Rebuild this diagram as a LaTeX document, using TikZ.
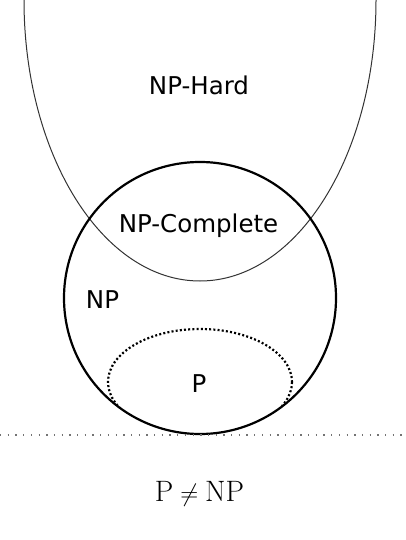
\documentclass[tikz,border=0pt]{standalone}
\usepackage{fontspec}
\setsansfont{DejaVu Sans}

\begin{document}
\begin{tikzpicture}[x=1pt, y=-1pt,
	setlabel/.style={anchor=base, inner sep=0pt, font=\sffamily\fontsize{24.5}{29}\selectfont}]
	\useasboundingbox (0,0) rectangle (405,540);
	\clip (0,0) rectangle (405,540);
% draw NP-Hard region
	\draw[line width=1pt, color=black!80] (200,0) ellipse [x radius=176, y radius=281];
% draw NP circle
	\draw[line width=2.2pt] (200,298) circle [radius=136];
% draw P region
	\begin{scope}
		\clip (200,298) circle [radius=135];
		\draw[line width=2.2pt, dash pattern=on 2pt off 2.2pt] (200,382) ellipse [x radius=92, y radius=53];
	\end{scope}
% draw dotted base line
	\draw[color=black!55, line width=1.4pt, dash pattern=on 1.3pt off 6.4pt] (0,435) -- (405,435);

% labels
	\node[setlabel] (hard) at (199,95) {NP-Hard};
	\node[setlabel] (complete) at (198.5,232) {NP-Complete};
	\node[setlabel] (np) at (102.5,308) {NP};
	\node[setlabel] (p) at (199,392) {P};
	\node[anchor=base, inner sep=0pt, font=\fontsize{29.5}{34}\selectfont] (neq) at (199.5,501) {$\mathrm{P} \neq \mathrm{NP}$};
\end{tikzpicture}
\end{document}
